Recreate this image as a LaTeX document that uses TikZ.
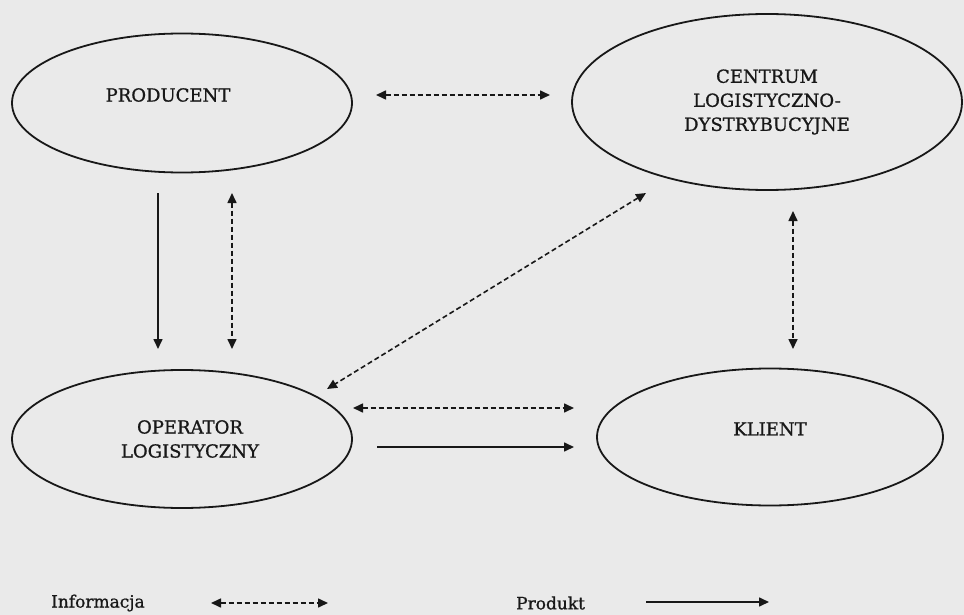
\documentclass[tikz,border=0pt]{standalone}
\usepackage{fontspec}
\setmainfont{DejaVu Serif}[FakeBold=0.9]
\usetikzlibrary{shapes.geometric,arrows.meta}
\definecolor{paper}{RGB}{234,234,234}
\definecolor{ink}{RGB}{24,24,24}
% shift a label inside its ellipse without changing the box size
\newcommand{\nudged}[3]{\raisebox{#2}[\height][\depth]{\makebox[\width]{\hspace*{#1}#3\hspace*{-#1}}}}

\begin{document}
\begin{tikzpicture}[x=1pt,y=-1pt,
  actor/.style={ellipse, draw=ink, line width=1.8pt, inner sep=0pt,
    font=\fontsize{18}{24}\selectfont, text=ink, align=center},
  flow/.style={draw=ink, line width=1.6pt, -{Triangle[length=10pt,width=9pt]}},
  info/.style={draw=ink, line width=1.6pt, dash pattern=on 5pt off 3pt,
    {Triangle[length=10pt,width=9pt]}-{Triangle[length=10pt,width=9pt]}},
  legend/.style={font=\fontsize{17}{20}\selectfont, text=ink, inner sep=0pt}
]
% page
\fill[paper] (0,0) rectangle (964,615);
\useasboundingbox (0,0) rectangle (964,615);

% actors
\node[actor, minimum width=340pt, minimum height=139pt] (prod) at (182,103)
  {\nudged{-14pt}{8pt}{PRODUCENT}};
\node[actor, minimum width=390pt, minimum height=176pt] (cent) at (767,102)
  {CENTRUM\\LOGISTYCZNO-\\DYSTRYBUCYJNE};
\node[actor, minimum width=340pt, minimum height=138pt] (oper) at (182,439)
  {\nudged{8pt}{0pt}{OPERATOR}\\\nudged{8pt}{0pt}{LOGISTYCZNY}};
\node[actor, minimum width=346pt, minimum height=137pt] (klie) at (770,437)
  {\nudged{0pt}{8pt}{KLIENT}};

% connector end points
\coordinate (pcL) at (376,95);   \coordinate (pcR) at (550,95);
\coordinate (poS) at (158,193);  \coordinate (poE) at (158,349);
\coordinate (poA) at (232,193);  \coordinate (poB) at (232,349);
\coordinate (coA) at (646,193);  \coordinate (coB) at (327,389);
\coordinate (ckA) at (793,211);  \coordinate (ckB) at (793,349);
\coordinate (okL) at (353,408);  \coordinate (okR) at (574,408);
\coordinate (okS) at (377,447);  \coordinate (okE) at (574,447);

% information flows (dashed, both ways)
\draw[info] (pcL) -- (pcR);
\draw[info] (poA) -- (poB);
\draw[info] (coA) -- (coB);
\draw[info] (ckA) -- (ckB);
\draw[info] (okL) -- (okR);

% product flows (solid)
\draw[flow] (poS) -- (poE);
\draw[flow] (okS) -- (okE);

% legend
\node[legend, anchor=west] (linfo) at (51,603) {Informacja};
\coordinate (liA) at (211,603); \coordinate (liB) at (328,603);
\draw[info] (liA) -- (liB);
\node[legend, anchor=west] (lprod) at (516,603) {Produkt};
\coordinate (lpA) at (646,602); \coordinate (lpB) at (769,602);
\draw[flow] (lpA) -- (lpB);
\end{tikzpicture}
\end{document}
